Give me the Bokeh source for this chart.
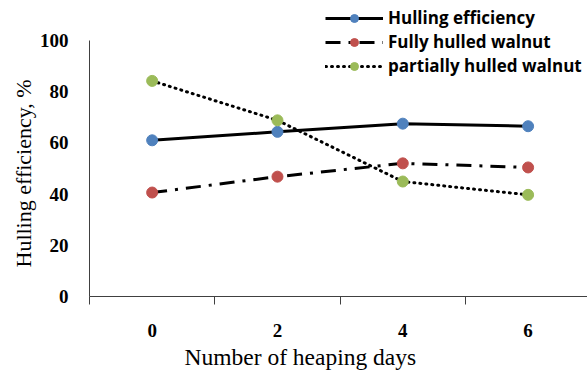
from bokeh.plotting import figure
from bokeh.models import Range1d, FixedTicker, Legend, LegendItem, Title
from bokeh.embed import file_html
from bokeh.resources import INLINE

# Heaping-day categories and measured percentages
days = ["0", "2", "4", "6"]
hulling_efficiency = [61.0, 64.3, 67.5, 66.5]
fully_hulled = [40.6, 46.8, 52.0, 50.4]
partially_hulled = [84.2, 68.8, 44.9, 39.7]
y_ticks = [0, 20, 40, 60, 80, 100]

xs = list(range(len(days)))

# frame spans the full height so the legend can sit above the 100 % line
p = figure(width=587, height=377, output_backend="svg", toolbar_location=None,
           x_range=Range1d(-0.5, 3.474), y_range=Range1d(0, 115.6),
           min_border_left=89, min_border_right=0, min_border_top=0, min_border_bottom=81)
p.outline_line_color = None
p.grid.visible = False
p.background_fill_color = "white"
p.border_fill_color = "white"

serif = "Liberation Serif"
axis_col = "#404040"

# x axis: labels at category centres, tick marks on category boundaries
p.xaxis.ticker = FixedTicker(ticks=xs, minor_ticks=[-0.5, 0.5, 1.5, 2.5, 3.5])
p.xaxis.major_label_overrides = {i: d for i, d in enumerate(days)}
p.xaxis.major_tick_out = 0
p.xaxis.major_tick_in = 0
p.xaxis.minor_tick_out = 8
p.xaxis.minor_tick_in = 0
p.xaxis.minor_tick_line_color = axis_col
p.xaxis.axis_line_color = axis_col
p.xaxis.major_label_text_font = serif
p.xaxis.major_label_text_font_style = "bold"
p.xaxis.major_label_text_font_size = "19px"
p.xaxis.major_label_text_color = "black"
p.xaxis.major_label_standoff = 19

p.yaxis.ticker = FixedTicker(ticks=y_ticks, minor_ticks=[])
p.yaxis.bounds = (0, 100)
p.yaxis.major_tick_out = 0
p.yaxis.major_tick_in = 0
p.yaxis.axis_line_color = axis_col
p.yaxis.major_label_text_font = serif
p.yaxis.major_label_text_font_style = "bold"
p.yaxis.major_label_text_font_size = "19px"
p.yaxis.major_label_text_color = "black"
p.yaxis.major_label_standoff = 21

# axis titles
x_title = Title(text="Number of heaping days", align="left", offset=95,
                text_font=serif, text_font_style="normal", text_font_size="23.5px",
                text_color="black", standoff=5)
p.add_layout(x_title, "below")
y_title = Title(text="Hulling efficiency, %", align="left", offset=29,
                text_font=serif, text_font_style="normal", text_font_size="22px",
                text_color="black", standoff=2)
p.add_layout(y_title, "left")

blue, red, green = "#4F81BD", "#C0504D", "#9BBB59"

l1 = p.line(xs, hulling_efficiency, line_color="black", line_width=3)
m1 = p.scatter(xs, hulling_efficiency, size=11, fill_color=blue, line_color=blue)

l2 = p.line(xs, fully_hulled, line_color="black", line_width=3, line_dash="15 8 3 8")
m2 = p.scatter(xs, fully_hulled, size=11, fill_color=red, line_color=red)

l3 = p.line(xs, partially_hulled, line_color="black", line_width=3,
            line_dash="1 5", line_cap="round")
m3 = p.scatter(xs, partially_hulled, size=11, fill_color=green, line_color=green)

legend = Legend(items=[
    LegendItem(label="Hulling efficiency", renderers=[l1, m1]),
    LegendItem(label="Fully hulled walnut", renderers=[l2, m2]),
    LegendItem(label="partially hulled walnut", renderers=[l3, m3]),
], location=(236, 219))
legend.label_text_font = "Open Sans"
legend.label_text_font_style = "bold"
legend.label_text_font_size = "17px"
legend.label_text_color = "black"
legend.glyph_width = 58
legend.glyph_height = 20
legend.label_height = 20
legend.label_standoff = 5
legend.spacing = 1
legend.padding = 0
legend.margin = 0
legend.border_line_color = None
legend.background_fill_alpha = 0
p.add_layout(legend, "center")

open("out.html", "w").write(file_html(p, INLINE))
